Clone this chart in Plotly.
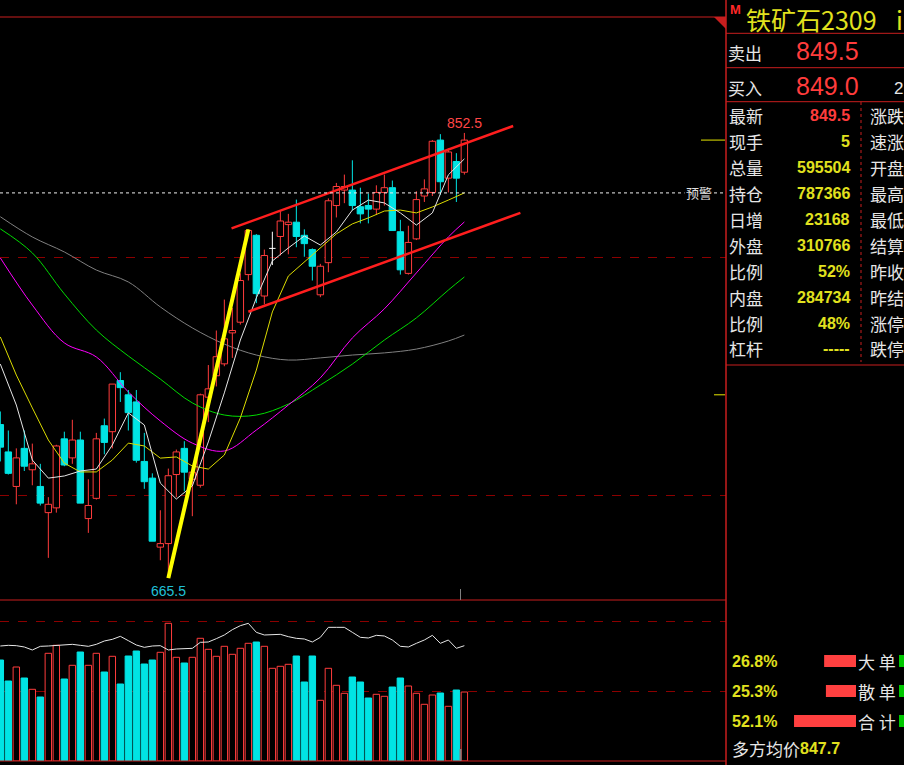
import plotly.graph_objects as go

W, H = 904, 765

# daily bars of 铁矿石2309, oldest first
opens = [730, 718.5, 704, 720, 711, 704, 693, 695, 724, 716,
         723.5, 690.5, 699, 729.5, 727, 748.5, 742.5, 739.5, 714.5, 707.5,
         678.5, 680, 709, 720, 707, 704.5, 741.5, 750.5, 755.5, 768.5,
         773, 793, 809.5, 784, 804, 809, 814, 815, 809.5, 803.5,
         784.5, 798, 822, 828.5, 828.5, 821.5, 822, 820.5, 827.5, 829.5,
         811, 793.5, 808, 826, 827.5, 849.5, 833.5, 840.5, 836]
highs = [735.5, 727.5, 720, 727.5, 722, 713.5, 699.5, 721.5, 727, 732,
         727, 707, 726.5, 732.5, 747, 752, 744.5, 744.5, 726.5, 709.5,
         694, 711.5, 719.5, 723, 712.5, 743, 755, 769.5, 782.5, 779,
         793.5, 812, 810, 803.5, 811, 820, 818.5, 824.5, 812, 804,
         797.5, 825, 831.5, 835, 841, 829.5, 827, 830.5, 835, 832.5,
         816, 813.5, 828, 833, 849.5, 852, 846, 844, 852.5]
lows = [714.5, 709, 696.5, 710.5, 704.5, 696, 674, 693, 712.5, 713.5,
        697, 684.5, 698.5, 717.5, 720, 739.5, 727.5, 714, 703, 681,
        673, 665.5, 699.5, 702, 691.5, 703.5, 731, 746, 754.5, 758,
        772, 790.5, 781, 780.5, 797, 801, 801.5, 804.5, 800.5, 790.5,
        783.5, 794, 817, 823, 820, 814.5, 814.5, 818, 822, 811.5,
        793, 793, 807.5, 823.5, 826, 826.5, 827.5, 823.5, 835]
closes = [720.5, 709.5, 716, 712.5, 713.5, 697, 696.5, 721, 713, 723.5,
          697, 696, 724, 722.5, 747, 745.5, 735, 715, 706, 681,
          680, 708.5, 718.5, 710, 710, 742.5, 745, 758.5, 766, 769.5,
          790.5, 811.5, 785, 801, 804, 815.5, 815, 809, 806, 796.5,
          796.5, 824, 830, 830, 822, 818.5, 820.5, 827.5, 829.5, 811.5,
          795, 806.5, 824.5, 829, 849, 832, 844.5, 833.5, 849.5]
volumes = [1010000, 800000, 940000, 830000, 717000, 640000, 1077000, 1157000, 820000, 957000,
           1090000, 957000, 1077000, 890000, 1047000, 770000, 1050000, 1100000, 970000, 1010000,
           1087000, 1377000, 1037000, 980000, 1037000, 1227000, 1117000, 1047000, 1147000, 1067000,
           1127000, 1177000, 1190000, 1147000, 927000, 947000, 967000, 1050000, 790000, 1050000,
           607000, 927000, 757000, 677000, 840000, 790000, 630000, 667000, 647000, 740000,
           830000, 750000, 677000, 567000, 660000, 680000, 547000, 710000, 690000]
open_interest = [786200, 788800, 787500, 782200, 770200, 784800, 786200, 787500, 790200, 792800,
                 788800, 784800, 792800, 806200, 812800, 824800, 807500, 790200, 780800, 786200,
                 787500, 770200, 774200, 776800, 776800, 800800, 802200, 815500, 830200, 851500,
                 867500, 876800, 840800, 830200, 831500, 832800, 823500, 816800, 814200, 802200,
                 820800, 860800, 860800, 860800, 840800, 820800, 818200, 828800, 826200, 810200,
                 784800, 782200, 796800, 810200, 828800, 796800, 810200, 776800, 787366]

# moving averages, read at every 2nd / 4th bar
fast_idx = list(range(0, 59, 2))
ma5 = [755.4, 738.2, 715.1, 707.5, 708.4, 710.5, 711.3, 721.4, 734.9, 729.8,
       705.4, 698.7, 704.2, 722.7, 743.3, 765.5, 783.2, 798.7, 804.2, 809.2,
       805.4, 810.9, 820.1, 824.3, 823.1, 818.9, 813.8, 818.9, 834.9, 841.6]
ma10 = [766.8, 750.8, 737.0, 723.5, 713.8, 710.1, 710.1, 715.1, 722.2, 721.0,
        715.9, 716.4, 712.6, 711.3, 717.2, 732.8, 752.9, 777.3, 792.4, 798.3,
        804.6, 810.1, 814.3, 816.8, 819.7, 820.1, 818.9, 821.4, 824.3, 827.3]
slow_idx = list(range(0, 57, 4)) + [58]
ma20 = [800.0, 780.2, 764.3, 758.4, 743.7, 731.5, 722.2, 718.9,
        727.7, 738.2, 749.6, 766.4, 778.6, 793.7, 808.8, 815.1]
ma40 = [812.2, 802.1, 784.9, 769.7, 758.8, 749.1, 739.1, 734.0,
        734.0, 738.6, 746.6, 755.4, 765.5, 774.8, 786.5, 792.0]
ma60 = [817.3, 808.8, 802.5, 794.9, 789.9, 779.4, 770.6, 763.8,
        759.2, 757.1, 758.0, 759.2, 760.1, 761.7, 765.1, 767.6]

# hand-drawn channel
upper_x, upper_y = [28.9, 64.1], [812.4, 855.4]
lower_x, lower_y = [31.0, 65.0], [777.4, 818.9]
warn_level = 827.3
marker_level = 742.5
grid_levels = [700, 800]
vol_levels = [700000, 1400000]

# quote panel
quote_labels = ["最新", "现手", "总量", "持仓", "日增", "外盘", "比例", "内盘", "比例", "杠杆"]
quote_values = ["849.5", "5", "595504", "787366", "23168", "310766", "52%", "284734", "48%", "-----"]
quote_labels2 = ["涨跌", "速涨", "开盘", "最高", "最低", "结算", "昨收", "昨结", "涨停", "跌停"]
ask_price, bid_price = "849.5", "849.0"
flow_labels = ["大 单", "散 单", "合 计"]
flow_long = [26.8, 25.3, 52.1]
flow_short = [24.0, 22.5, 46.5]
avg_long = "847.7"

RED = "#ff3c3c"
CYAN = "#00e4e4"
FRAME = "#c81e1e"
GRID = "#8c0000"
YEL = "#e1e11e"
WHITE = "#e6e6e6"
CJK = "Noto Sans CJK SC"
NUM = "Liberation Sans"


def px(x):
    return x / W


def py(y):
    return 1 - y / H


n = len(opens)
idx = list(range(n))
up = [i for i in idx if closes[i] > opens[i]]
down = [i for i in idx if closes[i] < opens[i]]
flat = [i for i in idx if closes[i] == opens[i]]


def wicks(ids):
    xs, ys = [], []
    for i in ids:
        top, bot = max(opens[i], closes[i]), min(opens[i], closes[i])
        xs += [i, i, None, i, i, None]
        ys += [highs[i], top, None, bot, lows[i], None]
    return xs, ys


fig = go.Figure()

# moving averages (behind candles)
fig.add_trace(go.Scatter(x=slow_idx, y=ma60, mode="lines", line=dict(color="#808080", width=1, shape="spline")))
fig.add_trace(go.Scatter(x=slow_idx, y=ma40, mode="lines", line=dict(color="#00dc00", width=1, shape="spline")))
fig.add_trace(go.Scatter(x=slow_idx, y=ma20, mode="lines", line=dict(color="#ff00ff", width=1, shape="spline")))

# candle bodies
fig.add_trace(go.Bar(x=up, y=[closes[i] - opens[i] for i in up], base=[opens[i] for i in up],
                     width=0.8, marker=dict(color="#000000", line=dict(color=RED, width=1))))
fig.add_trace(go.Bar(x=down, y=[opens[i] - closes[i] for i in down], base=[closes[i] for i in down],
                     width=0.8, marker=dict(color=CYAN, line=dict(color=CYAN, width=1))))
wx, wy = wicks(up)
fig.add_trace(go.Scatter(x=wx, y=wy, mode="lines", line=dict(color=RED, width=1)))
wx, wy = wicks(down)
fig.add_trace(go.Scatter(x=wx, y=wy, mode="lines", line=dict(color=CYAN, width=1)))
dx, dy = [], []
for i in flat:
    dx += [i, i, None, i - 0.4, i + 0.4, None]
    dy += [highs[i], lows[i], None, opens[i], opens[i], None]
fig.add_trace(go.Scatter(x=dx, y=dy, mode="lines", line=dict(color="#ffffff", width=1)))

fig.add_trace(go.Scatter(x=fast_idx, y=ma10, mode="lines", line=dict(color="#dcdc00", width=1)))
fig.add_trace(go.Scatter(x=fast_idx, y=ma5, mode="lines", line=dict(color=WHITE, width=1)))

# drawn lines
lo_i = lows.index(min(lows))
hi_i = 31
fig.add_trace(go.Scatter(x=[lo_i, hi_i], y=[lows[lo_i], highs[hi_i]], mode="lines",
                         line=dict(color="#ffff00", width=4)))
fig.add_trace(go.Scatter(x=upper_x, y=upper_y, mode="lines", line=dict(color="#ff1e1e", width=2.5)))
fig.add_trace(go.Scatter(x=lower_x, y=lower_y, mode="lines", line=dict(color="#ff1e1e", width=2.5)))

# volume panel
fig.add_trace(go.Bar(x=up + flat, y=[volumes[i] for i in up + flat], width=0.8, yaxis="y2",
                     marker=dict(color="#000000", line=dict(color=RED, width=1))))
fig.add_trace(go.Bar(x=down, y=[volumes[i] for i in down], width=0.8, yaxis="y2",
                     marker=dict(color=CYAN, line=dict(color=CYAN, width=1))))
fig.add_trace(go.Scatter(x=idx, y=open_interest, mode="lines", yaxis="y3",
                         line=dict(color=WHITE, width=1)))

# order-flow bars in the quote panel
fig.add_trace(go.Bar(x=flow_long, y=[0, 1, 2], orientation="h", width=0.4, xaxis="x4", yaxis="y4",
                     marker=dict(color="#ff4040", line=dict(width=0))))
fig.add_trace(go.Bar(x=flow_short, y=[0, 1, 2], orientation="h", width=0.4, xaxis="x5", yaxis="y5",
                     marker=dict(color="#00c800", line=dict(width=0))))

fig.update_layout(
    width=W, height=H, margin=dict(l=0, r=0, t=0, b=0),
    paper_bgcolor="#000000", plot_bgcolor="#000000",
    showlegend=False, barmode="overlay", hovermode=False,
    xaxis=dict(domain=[0, px(726)], range=[-0.04, 90.7], visible=False),
    yaxis=dict(domain=[py(600), py(17)], range=[656.3, 901.2], tickvals=grid_levels,
               showticklabels=False, ticks="", showline=False, zeroline=False,
               showgrid=True, gridcolor=GRID, griddash="dash", gridwidth=1),
    yaxis2=dict(domain=[py(761), py(601)], range=[0, 1600000], anchor="x", tickvals=vol_levels,
                showticklabels=False, ticks="", showline=False, zeroline=False,
                showgrid=True, gridcolor=GRID, griddash="dash", gridwidth=1),
    yaxis3=dict(overlaying="y2", range=[326166, 966166], visible=False),
    xaxis4=dict(domain=[px(790), px(856)], range=[55.5, 0], visible=False, anchor="y4"),
    yaxis4=dict(domain=[py(736), py(646)], range=[2.5, -0.5], visible=False, anchor="x4"),
    xaxis5=dict(domain=[px(899), 1], range=[0, 5], visible=False, anchor="y5"),
    yaxis5=dict(domain=[py(736), py(646)], range=[2.5, -0.5], visible=False, anchor="x5"),
)

shapes = []


def hline(y, x0, x1, color=FRAME, width=1, dash="solid"):
    shapes.append(dict(type="line", xref="paper", yref="paper", x0=px(x0), x1=px(x1),
                       y0=py(y), y1=py(y), line=dict(color=color, width=width, dash=dash)))


# frames
for y in [17, 600, 761]:
    hline(y, 0, 726)
for y in [33.3, 67.7, 101.7, 365]:
    hline(y, 726, 904)
shapes.append(dict(type="line", xref="paper", yref="paper", x0=px(726), x1=px(726), y0=0, y1=1,
                   line=dict(color=FRAME, width=1.5)))
shapes.append(dict(type="line", xref="paper", yref="paper", x0=px(861), x1=px(861),
                   y0=py(102), y1=py(362), line=dict(color=FRAME, width=1, dash="3px,3px")))
shapes.append(dict(type="path", xref="paper", yref="paper",
                   path=f"M {px(714)} {py(17)} L {px(726)} {py(17)} L {px(726)} {py(29)} Z",
                   fillcolor=FRAME, line=dict(width=0)))
# warning line and price markers
shapes.append(dict(type="line", xref="paper", yref="y", x0=0, x1=px(726), y0=warn_level, y1=warn_level,
                   line=dict(color="#f0f0f0", width=1, dash="3px,3px")))
shapes.append(dict(type="line", xref="paper", yref="y", x0=px(701), x1=px(725),
                   y0=closes[-1], y1=closes[-1], line=dict(color="#e6e600", width=1)))
shapes.append(dict(type="line", xref="paper", yref="y", x0=px(714), x1=px(725),
                   y0=marker_level, y1=marker_level, line=dict(color="#e6e600", width=1)))
shapes.append(dict(type="line", xref="paper", yref="paper", x0=px(460.5), x1=px(460.5),
                   y0=py(600), y1=py(589), line=dict(color="#808080", width=1)))
shapes.append(dict(type="line", xref="paper", yref="paper", x0=px(460.5), x1=px(460.5),
                   y0=py(761), y1=py(749), line=dict(color="#808080", width=2)))
fig.update_layout(shapes=shapes)

ann = []


def note(text, x, y, size, color, anchor="left", family=CJK, bold=False, yanchor="middle"):
    if bold:
        text = "<b>" + text + "</b>"
    ann.append(dict(text=text, x=px(x), y=py(y), xref="paper", yref="paper",
                    xanchor=anchor, yanchor=yanchor, showarrow=False, borderpad=0,
                    font=dict(size=size, color=color, family=family)))


# price labels on the chart
hi_all = highs.index(max(highs))
ann.append(dict(text=f"{highs[hi_all]:.1f}", x=hi_all, y=highs[hi_all], xref="x", yref="y",
                xanchor="center", yanchor="bottom", yshift=0, showarrow=False,
                font=dict(size=14, color="#ff4646", family=NUM)))
ann.append(dict(text=f"{lows[lo_i]:.1f}", x=lo_i, y=lows[lo_i], xref="x", yref="y",
                xanchor="center", yanchor="top", yshift=-3, showarrow=False,
                font=dict(size=14, color="#20c0d8", family=NUM)))
ann.append(dict(text="预警", x=px(699), y=warn_level, xref="paper", yref="y",
                xanchor="center", yanchor="middle", showarrow=False, bgcolor="#000000",
                font=dict(size=13, color="#e0e0e0", family=CJK)))

# quote panel header
note("<b>M</b>", 729, 1, 13, "#ff2828", family=NUM, yanchor="top")
note("铁矿石2309", 745, 0, 25, YEL, yanchor="top")
note("i", 895, 0, 25, YEL, yanchor="top")
note("卖出", 727, 52.5, 17, WHITE)
note(ask_price, 795, 51, 25, RED, family=NUM)
note("买入", 727, 87.5, 17, WHITE)
note(bid_price, 795, 86, 25, RED, family=NUM)
note("2", 893, 88, 17, WHITE, family=NUM)

for k, (lab, val, lab2) in enumerate(zip(quote_labels, quote_values, quote_labels2)):
    yy = 115.5 + 25.94 * k
    note(lab, 728, yy, 17, WHITE)
    note(val, 851, yy, 16, RED if k == 0 else YEL, anchor="right", family=NUM, bold=True)
    note(lab2, 869, yy, 17, WHITE)

for k, (lab, pct) in enumerate(zip(flow_labels, flow_long)):
    yy = 661 + 30 * k
    note(f"{pct:.1f}%", 731, yy, 16, YEL, family=NUM, bold=True)
    note(lab, 857, yy, 17, WHITE)
note("多方均价", 731, 748, 17, WHITE)
note(avg_long, 799, 748, 16, YEL, family=NUM, bold=True)

fig.update_layout(annotations=ann)
fig.write_html("out.html", config={"displayModeBar": False},
               post_script="document.body.style.margin='0';document.body.style.overflow='hidden';")
